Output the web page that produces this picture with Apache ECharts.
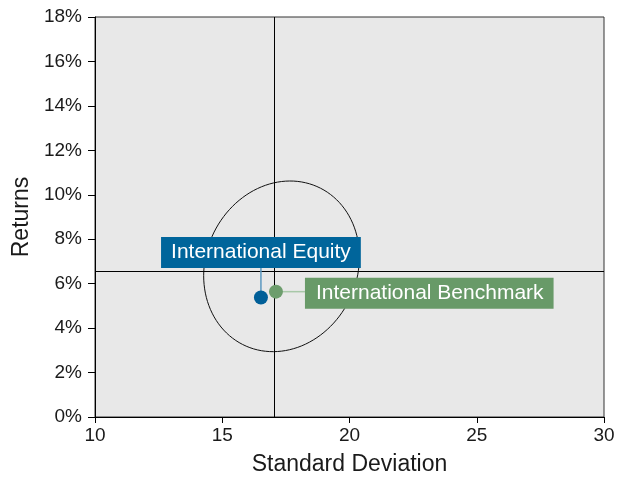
<!DOCTYPE html>
<html>
<head>
<meta charset="utf-8">
<script src="https://cdn.jsdelivr.net/npm/echarts@6/dist/echarts.min.js"></script>
<style>html,body{margin:0;padding:0;background:#fff;overflow:hidden}#c{width:628px;height:481px}</style>
</head>
<body>
<div id="c"></div>
<script>
// ---- data ----
var names = ['International Equity', 'International Benchmark'];
var stdDev = [16.52, 17.11];
var returns = [5.38, 5.64];
var crossX = 17.03;
var crossY = 6.55;
// confidence ellipse: centre x, centre y, sd x, sd y, correlation
var ellipseCenter = [17.33, 6.78];
var ellipseSpread = [3.06, 3.84];
var ellipseCorr = [0.11];
var xTicks = [10, 15, 20, 25, 30];
var yTicks = [0, 2, 4, 6, 8, 10, 12, 14, 16, 18];

// ---- styles ----
var boxColors = ['#00659b', '#689a68'];
var dotColors = ['#005f98', '#6d9d6d'];
var lineColors = ['#5b98c0', '#a8c8a8'];

var chart = echarts.init(document.getElementById('c'));
var font = '"Liberation Sans", Arial, sans-serif';

var pointData = names.map(function (n, i) { return [stdDev[i], returns[i], i]; });

chart.setOption({
  animation: false,
  grid: { left: 95, right: 24, top: 17, bottom: 60, show: true, backgroundColor: '#e8e8e8', borderColor: '#333', borderWidth: 1 },
  xAxis: {
    type: 'value', min: xTicks[0], max: xTicks[xTicks.length - 1], interval: 5,
    name: 'Standard Deviation', nameLocation: 'middle', nameGap: 36,
    nameTextStyle: { fontFamily: font, fontSize: 23, color: '#1a1a1a' },
    axisLine: { lineStyle: { color: '#000' } },
    axisTick: { show: true, length: 6, lineStyle: { color: '#000' } },
    axisLabel: { fontFamily: font, fontSize: 19, color: '#1a1a1a', margin: 9 },
    splitLine: { show: false }
  },
  yAxis: {
    type: 'value', min: yTicks[0], max: yTicks[yTicks.length - 1], interval: 2,
    name: 'Returns', nameLocation: 'middle', nameGap: 57,
    nameTextStyle: { fontFamily: font, fontSize: 23, color: '#1a1a1a' },
    axisLine: { show: true, lineStyle: { color: '#000' } },
    axisTick: { show: true, length: 7, lineStyle: { color: '#000' } },
    axisLabel: { fontFamily: font, fontSize: 19, color: '#1a1a1a', margin: 13, formatter: '{value}%' },
    splitLine: { show: false }
  },
  series: [
    {
      type: 'custom',
      data: [[ellipseCenter[0], ellipseCenter[1], ellipseSpread[0], ellipseSpread[1], ellipseCorr[0]]],
      z: 2,
      silent: true,
      renderItem: function (params, api) {
        var cx = api.value(0), cy = api.value(1), sx = api.value(2), sy = api.value(3), r = api.value(4);
        var pts = [];
        var n = 120;
        for (var k = 0; k <= n; k++) {
          var t = 2 * Math.PI * k / n;
          var x = cx + sx * Math.cos(t);
          var y = cy + sy * (r * Math.cos(t) + Math.sqrt(1 - r * r) * Math.sin(t));
          pts.push(api.coord([x, y]));
        }
        return { type: 'polyline', shape: { points: pts }, style: { stroke: '#111', lineWidth: 1, fill: null } };
      }
    },
    {
      type: 'line',
      data: [],
      z: 3,
      markLine: {
        silent: true, symbol: 'none', label: { show: false },
        lineStyle: { color: '#000', width: 1, type: 'solid' },
        data: [{ xAxis: crossX }, { yAxis: crossY }]
      }
    },
    {
      type: 'custom',
      data: pointData,
      z: 5,
      renderItem: function (params, api) {
        var i = api.value(2);
        var p = api.coord([api.value(0), api.value(1)]);
        var children = [];
        if (i === 0) {
          var bx = p[0], by = p[1] - 45;
          children.push({ type: 'line', shape: { x1: p[0], y1: p[1], x2: p[0], y2: by + 15 }, style: { stroke: lineColors[0], lineWidth: 1.5 } });
          children.push({ type: 'text', x: bx, y: by, style: { text: names[0], fill: '#fff', font: '21px ' + font, align: 'center', verticalAlign: 'middle', backgroundColor: boxColors[0], padding: [5, 10, 5, 10] } });
        } else {
          var lx = p[0] + 29, ly = p[1] + 1.5;
          children.push({ type: 'line', shape: { x1: p[0], y1: p[1], x2: lx, y2: p[1] }, style: { stroke: lineColors[1], lineWidth: 1.5 } });
          children.push({ type: 'text', x: lx, y: ly, style: { text: names[1], fill: '#fff', font: '21px ' + font, align: 'left', verticalAlign: 'middle', backgroundColor: boxColors[1], padding: [5, 10, 5, 11] } });
        }
        children.push({ type: 'circle', shape: { cx: p[0], cy: p[1], r: 7 }, style: { fill: dotColors[i] }, z2: 10 });
        return { type: 'group', children: children };
      }
    }
  ]
});
</script>
</body>
</html>
